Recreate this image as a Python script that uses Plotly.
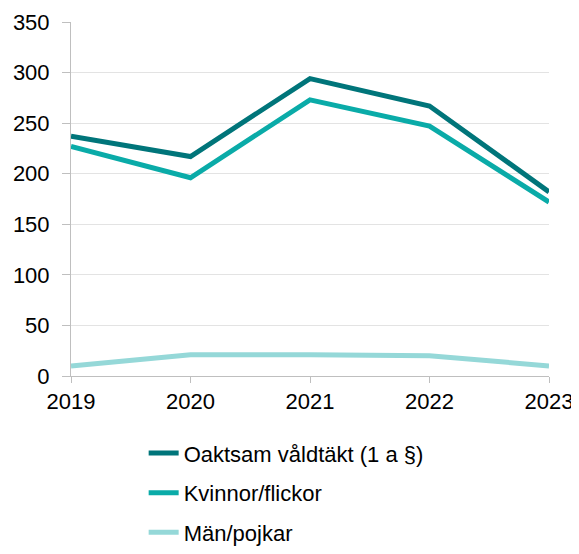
import plotly.graph_objects as go

years = [2019, 2020, 2021, 2022, 2023]
oaktsam = [237, 217, 294, 267, 182]
kvinnor = [227, 196, 273, 247, 172]
man = [10, 21, 21, 20, 10]
names = ["Oaktsam våldtäkt (1 a §)", "Kvinnor/flickor", "Män/pojkar"]
colors = ["#00757A", "#0AABA8", "#95D8D8"]

fig = go.Figure()
for i, (vals, name, col) in enumerate(zip([oaktsam, kvinnor, man], names, colors)):
    fig.add_trace(go.Scatter(x=years, y=vals, name=name, mode="lines",
                             line=dict(color=col, width=5), legendgroup=str(i)))

fig.update_layout(
    width=569, height=538,
    margin=dict(l=63, r=28, t=14, b=170, autoexpand=False),
    plot_bgcolor="white", paper_bgcolor="white",
    font=dict(family="Liberation Sans, Arial, sans-serif", size=22, color="#000000"),
    showlegend=True,
    legend=dict(orientation="v", x=0.152, xanchor="left", y=-0.159, yanchor="top",
                traceorder="grouped", tracegroupgap=8, font=dict(size=22)),
    xaxis=dict(range=[2019, 2023], tickvals=years, ticktext=[str(y) for y in years],
               showgrid=False, showline=True, linecolor="#BFBFBF", linewidth=1,
               ticks="outside", ticklen=6, tickcolor="#BFBFBF", zeroline=False,
               automargin=False),
    yaxis=dict(range=[0, 350], dtick=50, showgrid=True, gridcolor="#E3E3E3",
               showline=True, linecolor="#BFBFBF", linewidth=1,
               ticks="outside", ticklen=8, tickcolor="#BFBFBF", zeroline=False,
               ticklabelstandoff=8, automargin=False),
)
fig.write_html("out.html")
